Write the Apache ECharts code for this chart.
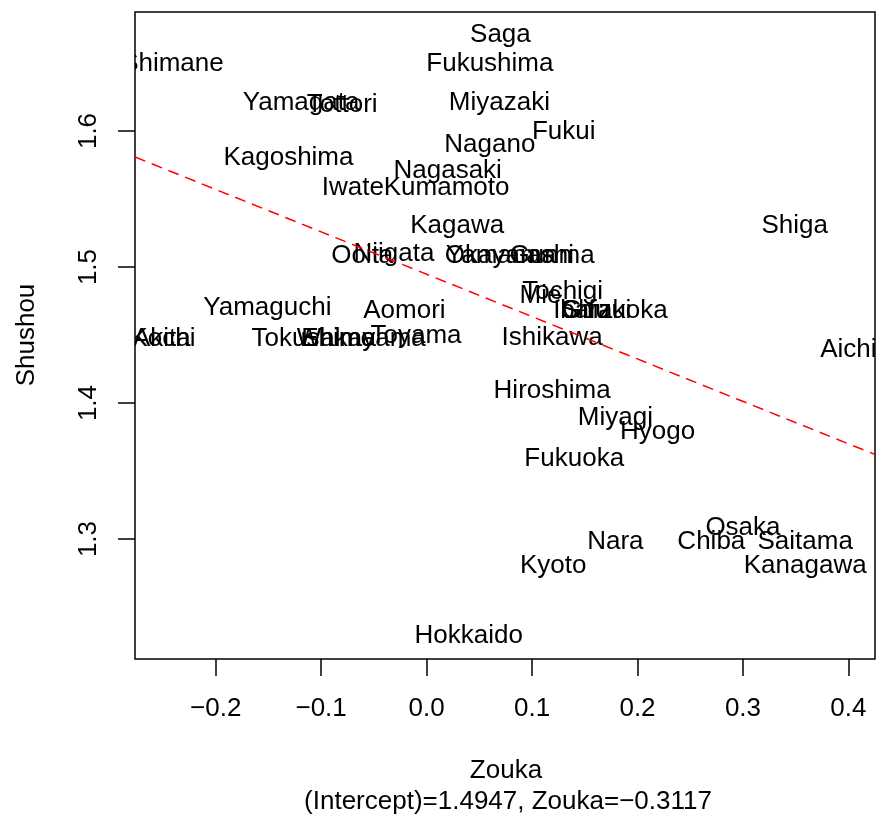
<!DOCTYPE html>
<html>
<head>
<meta charset="utf-8">
<script src="https://cdn.jsdelivr.net/npm/echarts@6/dist/echarts.min.js"></script>
<style>
html,body{margin:0;padding:0;background:#fff;}
#chart{width:876px;height:816px;}
</style>
</head>
<body>
<div id="chart"></div>
<script>
// ---- data ----
const prefectures = ["Saga","Shimane","Fukushima","Yamagata","Tottori","Miyazaki","Fukui","Nagano","Kagoshima","Nagasaki","Iwate","Kumamoto","Kagawa","Shiga","Ooita","Niigata","Okayama","Yamanashi","Gunma","Tochigi","Mie","Ibaraki","Gifu","Shizuoka","Yamaguchi","Aomori","Akita","Kochi","Tokushima","Ehime","Wakayama","Toyama","Ishikawa","Aichi","Hiroshima","Miyagi","Hyogo","Fukuoka","Osaka","Nara","Chiba","Saitama","Kyoto","Kanagawa","Hokkaido"];
const zouka = [0.070,-0.241,0.060,-0.119,-0.080,0.069,0.130,0.060,-0.131,0.020,-0.070,0.019,0.029,0.349,-0.061,-0.031,0.070,0.079,0.119,0.129,0.108,0.157,0.151,0.178,-0.151,-0.021,-0.251,-0.250,-0.107,-0.084,-0.062,-0.010,0.119,0.400,0.119,0.179,0.219,0.140,0.300,0.179,0.270,0.359,0.120,0.359,0.040];
const shushou = [1.674,1.652,1.652,1.624,1.622,1.624,1.602,1.593,1.583,1.574,1.561,1.561,1.533,1.533,1.511,1.513,1.511,1.511,1.511,1.485,1.482,1.471,1.471,1.471,1.473,1.471,1.450,1.450,1.450,1.450,1.450,1.452,1.451,1.442,1.412,1.392,1.382,1.362,1.311,1.301,1.301,1.301,1.283,1.283,1.232];
const xTicks = [-0.2,-0.1,0.0,0.1,0.2,0.3,0.4];
const yTicks = [1.3,1.4,1.5,1.6];
const xLimits = [-0.2765, 0.4252];
const yLimits = [1.2118, 1.6875];
const intercept = 1.4947;
const slope = -0.3117;
const xTitle = "Zouka";
const yTitle = "Shushou";
const subTitle = "(Intercept)=1.4947, Zouka=\u22120.3117";

// ---- chart ----
const FONT = "'Liberation Sans', Arial, Helvetica, sans-serif";
const FS = 26;
const chart = echarts.init(document.getElementById('chart'), null, {renderer:'canvas'});
const fmt = v => (v < 0 ? '\u2212' : '') + Math.abs(v).toFixed(1);
const points = prefectures.map((n,i) => [zouka[i], shushou[i]]);
const fitLine = xLimits.map(x => [x, intercept + slope * x]);

chart.setOption({
  animation: false,
  backgroundColor: '#ffffff',
  grid: {left:135, right:1, top:12, bottom:157, show:true, borderColor:'#000', borderWidth:1.5, backgroundColor:'transparent'},
  xAxis: {
    type:'value', min:xLimits[0], max:xLimits[1],
    axisLine:{show:false, onZero:false},
    splitLine:{show:false},
    axisTick:{show:true, inside:false, length:17, customValues:xTicks, lineStyle:{color:'#000', width:1.5}},
    axisLabel:{show:true, customValues:xTicks, formatter:fmt, margin:37, color:'#000', fontSize:FS, fontFamily:FONT}
  },
  yAxis: {
    type:'value', min:yLimits[0], max:yLimits[1],
    axisLine:{show:false, onZero:false},
    splitLine:{show:false},
    axisTick:{show:true, inside:false, length:17, customValues:yTicks, lineStyle:{color:'#000', width:1.5}},
    axisLabel:{show:true, customValues:yTicks, formatter:v => v.toFixed(1), rotate:90, margin:33, color:'#000', fontSize:FS, fontFamily:FONT}
  },
  graphic: [
    {type:'text', x:27, y:335, rotation:Math.PI/2, style:{text:yTitle, fontSize:FS, fontFamily:FONT, fill:'#000', align:'center', verticalAlign:'middle'}},
    {type:'text', x:506, y:771, style:{text:xTitle, fontSize:FS, fontFamily:FONT, fill:'#000', align:'center', verticalAlign:'middle'}},
    {type:'text', x:508, y:802, style:{text:subTitle, fontSize:FS, fontFamily:FONT, fill:'#000', align:'center', verticalAlign:'middle'}}
  ],
  series: [
    {
      type:'line', data:fitLine, symbol:'none', clip:true, silent:true,
      lineStyle:{color:'#ff0000', width:1.5, type:[11,7]}
    },
    {
      type:'custom', clip:true, silent:true,
      data: points,
      encode:{x:0, y:1},
      renderItem: function(params, api){
        const p = api.coord([api.value(0), api.value(1)]);
        return {
          type:'text', x:p[0], y:p[1] + 4,
          style:{text:prefectures[params.dataIndex], fontSize:FS, fontFamily:FONT, fill:'#000', align:'center', verticalAlign:'middle'}
        };
      }
    }
  ]
});
</script>
</body>
</html>
